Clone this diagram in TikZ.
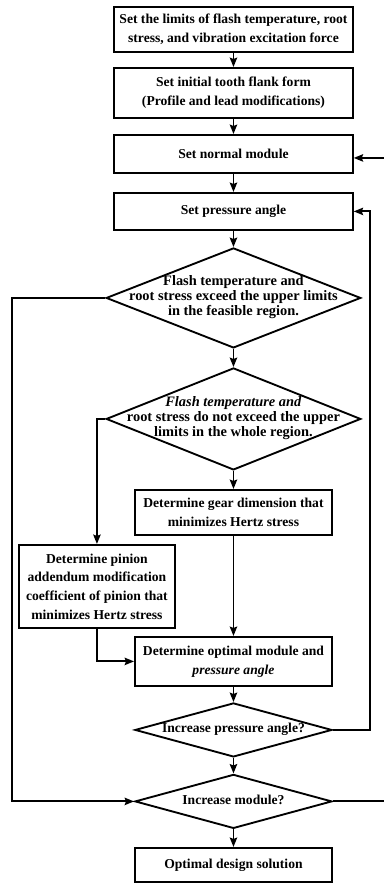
\documentclass[tikz,border=0pt]{standalone}
\usepackage{fontspec}
\setmainfont{Liberation Serif}
\usetikzlibrary{shapes.geometric,arrows.meta,positioning}

\newcommand{\dtext}[1]{\makebox[0pt]{\begin{tabular}{@{}c@{}}#1\end{tabular}}}

\begin{document}
\begin{tikzpicture}[->,>={Stealth[length=7pt,width=5.5pt,inset=1pt]},line width=1.4pt,node distance=47.6pt,
    box node/.style={rectangle,draw,align=center,inner sep=2pt,minimum width=179pt,font=\fontsize{10.2}{14}\selectfont\bfseries},
    small box/.style={box node,minimum width=147.75pt},
    test node/.style={diamond,draw,inner sep=0pt,minimum width=191pt,minimum height=75pt,font=\fontsize{10.8}{11.25}\selectfont\bfseries},
    small test/.style={test node,minimum width=147.75pt,minimum height=40.5pt,font=\fontsize{10.2}{11.25}\selectfont\bfseries}]

            \useasboundingbox (0,0) rectangle (287.25pt,-662.25pt);

            \node[box node, minimum height=33.75pt] (1) at (175.1pt,-22.1pt) {Set the limits of flash temperature, root\\stress, and vibration excitation force};
            \node[box node, minimum height=37.5pt] (2) [below of = 1] {Set initial tooth flank form\\(Profile and lead modifications)};
            \node[box node, minimum height=28.5pt, node distance=45.75pt] (3) [below of = 2] {Set normal module};
            \node[box node, minimum height=27.75pt, node distance=43.1pt] (4) [below of = 3] {Set pressure angle};
            \node[test node, node distance=64.9pt] (5) [below of = 4] {\dtext{Flash temperature and\\root stress exceed the upper limits\\in the feasible region.}};
            \node[test node, minimum height=76.5pt, node distance=90.75pt] (6) [below of = 5] {\dtext{\textit{Flash temperature and}\\root stress do not exceed the upper\\limits in the whole region.}};
            \node[small box, minimum height=33.75pt, node distance=70.1pt] (7) [below of = 6] {Determine gear dimension that\\minimizes Hertz stress};
            \node[box node, minimum width=117pt, minimum height=62.25pt] (8) at ([xshift=-102.4pt,yshift=-55.5pt]7) {Determine pinion\\addendum modification\\coefficient of pinion that\\minimizes Hertz stress};
            \node[small box, minimum height=36.75pt, node distance=111.75pt] (9) [below of = 7] {Determine optimal module and\\\textit{pressure angle}};
            \node[small test, node distance=51.4pt] (10) [below of = 9] {\dtext{Increase pressure angle?}};
            \node[small test, node distance=53.6pt] (11) [below of = 10] {\dtext{Increase module?}};
            \node[small box, minimum height=25.5pt] (12) [below of = 11] {Optimal design solution};

            \coordinate (a) at (9pt,0);
            \coordinate (b) at (277.5pt,0);
            \coordinate (c) at (292pt,0);

            \draw (1) to (2);
            \draw (2) to (3);
            \draw (3) to (4);
            \draw (4) to (5);
            \draw (5) to (6);
            \draw (6) to (7);
            \draw (7) to (9);
            \draw (9) to (10);
            \draw (10) to (11);
            \draw (11) to (12);

            \draw (5.west) -- (5.west -| a) |- (11.west);
            \draw (6.west) -| (8.north);
            \draw (8.south) |- (9.west);
            \draw (10.east) -- (10.east -| b) |- (4.east);
            \draw (11.east) -- (11.east -| c) |- ([yshift=-3pt]3.east);

        \end{tikzpicture}
\end{document}
